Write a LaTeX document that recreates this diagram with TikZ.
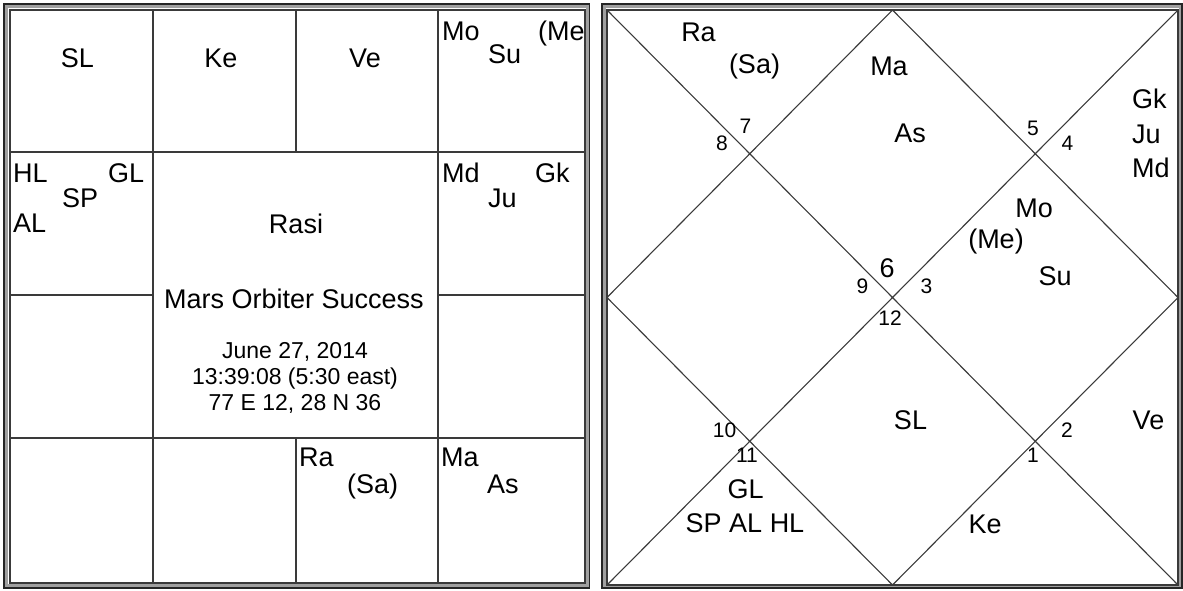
\documentclass[tikz,border=0pt]{standalone}
\usepackage{fontspec}
\setmainfont{Liberation Sans}
\definecolor{ChartLine}{HTML}{3A3A3A}
\definecolor{ChartEdge}{HTML}{A0A0A0}

\begin{document}
\begin{tikzpicture}[x=1pt,y=-1pt,
    planet/.style={inner sep=0pt,anchor=base,font=\fontsize{27}{30}\selectfont},
    planetl/.style={planet,anchor=base west},
    house/.style={inner sep=0pt,anchor=base,font=\fontsize{21}{24}\selectfont},
    info/.style={inner sep=0pt,anchor=base,font=\fontsize{23}{26}\selectfont},
    grid/.style={draw=ChartLine,line width=1.6pt},
    diag/.style={draw=ChartLine,line width=1.1pt},
    edge/.style={draw=ChartEdge,line width=3pt},
    rim/.style={draw=black!85,line width=1.6pt}
  ]
    \useasboundingbox (0,0) rectangle (1183,590);

    % left chart (south indian)
    \draw[edge] (6.5,6.5) rectangle (587.5,585.5);
    \draw[rim] (4,4) rectangle (589.5,588);
    \draw[grid] (10,10) rectangle (585,583);
    \draw[grid] (153,10) -- (153,583) (438,10) -- (438,583)
      (10,152) -- (585,152) (10,438) -- (585,438)
      (296,10) -- (296,152) (296,438) -- (296,583)
      (10,295) -- (153,295) (438,295) -- (585,295);

    \foreach \x/\y/\t/\n in {77.5/67/SL/lsl,221/67/Ke/lke,365/67/Ve/lve}
      \node[planet] (\n) at (\x,\y) {\t};
    \foreach \x/\y/\t/\n in {442/40/Mo/lmo,488/63/Su/lsu,
        13/182/HL/lhl,108/182/GL/lgl,62/207/SP/lsp,13/232/AL/lal,
        442/182/Md/lmd,535/182/Gk/lgk,488/207/Ju/lju,
        299/466/Ra/lra,347/493/(Sa)/lsa,441/466/Ma/lma,487/493/As/las}
      \node[planetl] (\n) at (\x,\y) {\t};
    \begin{scope}
      \clip (438,10) rectangle (584,152);
      \node[planetl] (lme) at (538,40) {(Me)};
    \end{scope}

    \node[planet] (rasi) at (296,233) {Rasi};
    \node[planet] (event) at (294,308) {Mars Orbiter Success};
    \node[info] (date) at (295,358) {June 27, 2014};
    \node[info] (time) at (295,384) {13:39:08 (5:30 east)};
    \node[info] (place) at (295,410) {77 E 12, 28 N 36};

    % right chart (north indian)
    \draw[edge] (604.5,6.5) rectangle (1180.5,585.5);
    \draw[rim] (602,4) rectangle (1182,588);
    \coordinate (tl) at (607,10);
    \coordinate (tr) at (1178,10);
    \coordinate (br) at (1178,585);
    \coordinate (bl) at (607,585);
    \coordinate (mt) at (892.5,10);
    \coordinate (mr) at (1178,297.5);
    \coordinate (mb) at (892.5,585);
    \coordinate (ml) at (607,297.5);
    \draw[diag] (tl) rectangle (br);
    \draw[diag] (tl) -- (br) (tr) -- (bl);
    \draw[diag] (mt) -- (mr) -- (mb) -- (ml) -- cycle;

    \foreach \x/\y/\t in {745.5/133/7,722/150/8,1033/135/5,1067.5/150/4,
        862.5/293/9,926.5/293/3,890/325/12,724.5/437/10,747/462/11,
        1067/437/2,1033/462/1}
      \node[house] (h\t) at (\x,\y) {\t};
    \node[planet] (h6) at (887,277) {6};

    \foreach \x/\y/\t/\n in {698.5/41/Ra/rra,754.5/73/(Sa)/rsa,889/75/Ma/rma,
        910/142/As/ras,1034/217/Mo/rmo,996/248/(Me)/rme,1055/285/Su/rsu,
        910.5/429/SL/rsl,1148.5/429/Ve/rve,985/533/Ke/rke,
        745.5/498/GL/rgl,745/532/SP AL HL/rsp}
      \node[planet] (\n) at (\x,\y) {\t};
    \foreach \y/\t/\n in {108/Gk/rgk,143/Ju/rju,177/Md/rmd}
      \node[planetl] (\n) at (1132,\y) {\t};
  \end{tikzpicture}
\end{document}
